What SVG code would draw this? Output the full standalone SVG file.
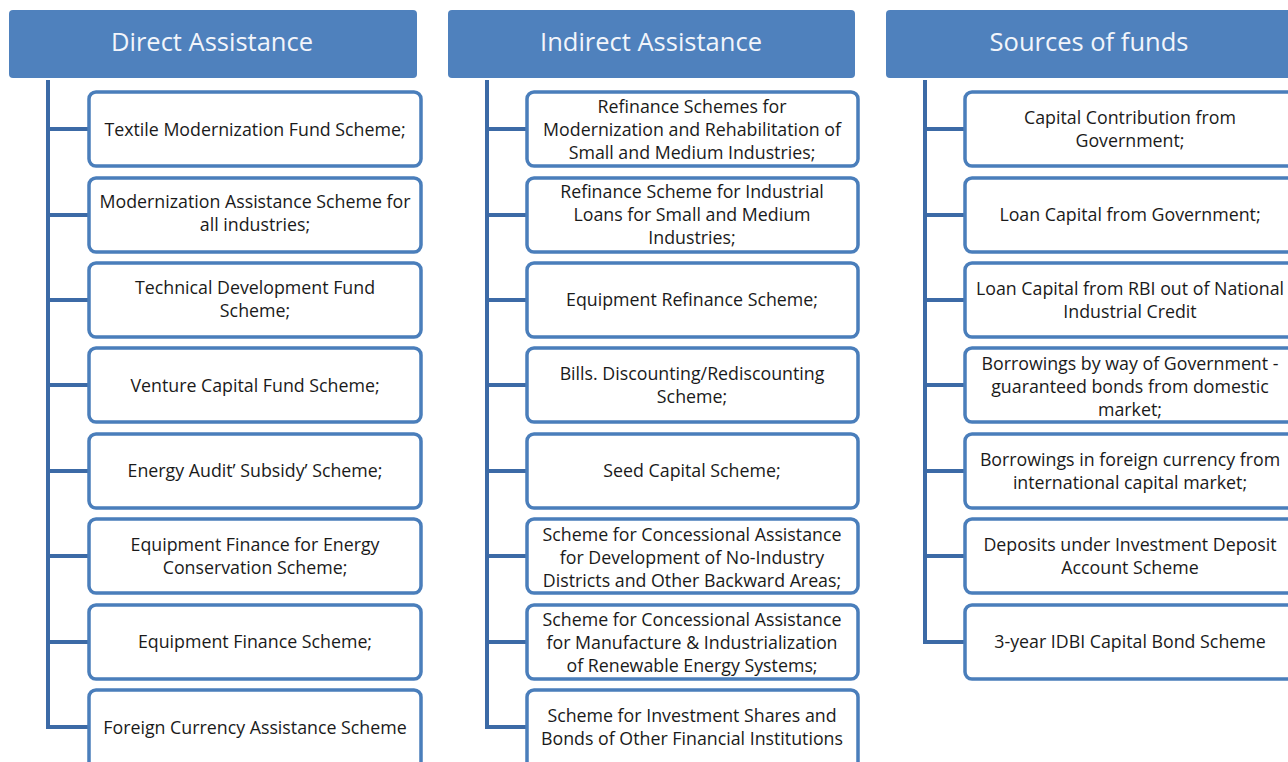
<svg xmlns="http://www.w3.org/2000/svg" width="1288" height="762" viewBox="0 0 1288 762">
<style>
.hdr{fill:#4f81bd;}
.ht{fill:#f2f5fb;font-family:"Open Sans","Liberation Sans",sans-serif;font-size:25.5px;text-anchor:middle;dominant-baseline:central;}
.box{fill:#ffffff;stroke:#4a7ebb;stroke-width:3.5;}
.bt{fill:#1a1a1a;font-family:"Open Sans","Liberation Sans",sans-serif;font-size:17.8px;text-anchor:middle;dominant-baseline:central;}
.con{stroke:#3c6aa6;stroke-width:4;fill:none;}
</style>
<rect width="1288" height="762" fill="#ffffff"/>
<g id="connectors">
<path class="con" d="M48 80 V727 H89 M48 129 H89 M48 215 H89 M48 300 H89 M48 385 H89 M48 471 H89 M48 556 H89 M48 642 H89"/>
<path class="con" d="M487 80 V727 H527 M487 129 H527 M487 215 H527 M487 300 H527 M487 385 H527 M487 471 H527 M487 556 H527 M487 642 H527"/>
<path class="con" d="M925 80 V642 H965 M925 129 H965 M925 215 H965 M925 300 H965 M925 385 H965 M925 471 H965 M925 556 H965"/>
</g>
<g id="h1"><rect class="hdr" x="9" y="10" width="408" height="68" rx="4"/><text class="ht" x="212" y="41">Direct Assistance</text></g>
<g id="h2"><rect class="hdr" x="448" y="10" width="407" height="68" rx="4"/><text class="ht" x="651" y="41">Indirect Assistance</text></g>
<g id="h3"><rect class="hdr" x="886" y="10" width="410" height="68" rx="4"/><text class="ht" x="1089" y="41">Sources of funds</text></g>

<g id="d1"><rect class="box" x="89" y="92" width="332" height="74" rx="7"/><text class="bt" x="255" y="129">Textile Modernization Fund Scheme;</text></g>
<g id="d2"><rect class="box" x="89" y="178" width="332" height="74" rx="7"/><text class="bt" x="255" y="201">Modernization Assistance Scheme for</text><text class="bt" x="255" y="224">all industries;</text></g>
<g id="d3"><rect class="box" x="89" y="263" width="332" height="74" rx="7"/><text class="bt" x="255" y="287">Technical Development Fund</text><text class="bt" x="255" y="310">Scheme;</text></g>
<g id="d4"><rect class="box" x="89" y="348" width="332" height="74" rx="7"/><text class="bt" x="255" y="385">Venture Capital Fund Scheme;</text></g>
<g id="d5"><rect class="box" x="89" y="434" width="332" height="74" rx="7"/><text class="bt" x="255" y="470">Energy Audit’ Subsidy’ Scheme;</text></g>
<g id="d6"><rect class="box" x="89" y="519" width="332" height="74" rx="7"/><text class="bt" x="255" y="544">Equipment Finance for Energy</text><text class="bt" x="255" y="567">Conservation Scheme;</text></g>
<g id="d7"><rect class="box" x="89" y="605" width="332" height="74" rx="7"/><text class="bt" x="255" y="641">Equipment Finance Scheme;</text></g>
<g id="d8"><rect class="box" x="89" y="690" width="332" height="80" rx="7"/><text class="bt" x="255" y="727">Foreign Currency Assistance Scheme</text></g>

<g id="i1"><rect class="box" x="527" y="92" width="331" height="74" rx="7"/><text class="bt" x="692" y="106">Refinance Schemes for</text><text class="bt" x="692" y="129">Modernization and Rehabilitation of</text><text class="bt" x="692" y="152">Small and Medium Industries;</text></g>
<g id="i2"><rect class="box" x="527" y="178" width="331" height="74" rx="7"/><text class="bt" x="692" y="191">Refinance Scheme for Industrial</text><text class="bt" x="692" y="214">Loans for Small and Medium</text><text class="bt" x="692" y="237">Industries;</text></g>
<g id="i3"><rect class="box" x="527" y="263" width="331" height="74" rx="7"/><text class="bt" x="692" y="299">Equipment Refinance Scheme;</text></g>
<g id="i4"><rect class="box" x="527" y="348" width="331" height="74" rx="7"/><text class="bt" x="692" y="373">Bills. Discounting/Rediscounting</text><text class="bt" x="692" y="396">Scheme;</text></g>
<g id="i5"><rect class="box" x="527" y="434" width="331" height="74" rx="7"/><text class="bt" x="692" y="470">Seed Capital Scheme;</text></g>
<g id="i6"><rect class="box" x="527" y="519" width="331" height="74" rx="7"/><text class="bt" x="692" y="534">Scheme for Concessional Assistance</text><text class="bt" x="692" y="557">for Development of No-Industry</text><text class="bt" x="692" y="580">Districts and Other Backward Areas;</text></g>
<g id="i7"><rect class="box" x="527" y="605" width="331" height="74" rx="7"/><text class="bt" x="692" y="619">Scheme for Concessional Assistance</text><text class="bt" x="692" y="642">for Manufacture &amp; Industrialization</text><text class="bt" x="692" y="665">of Renewable Energy Systems;</text></g>
<g id="i8"><rect class="box" x="527" y="690" width="331" height="80" rx="7"/><text class="bt" x="692" y="715">Scheme for Investment Shares and</text><text class="bt" x="692" y="738">Bonds of Other Financial Institutions</text></g>

<g id="s1"><rect class="box" x="965" y="92" width="340" height="74" rx="7"/><text class="bt" x="1130" y="117">Capital Contribution from</text><text class="bt" x="1130" y="140">Government;</text></g>
<g id="s2"><rect class="box" x="965" y="178" width="340" height="74" rx="7"/><text class="bt" x="1130" y="214">Loan Capital from Government;</text></g>
<g id="s3"><rect class="box" x="965" y="263" width="340" height="74" rx="7"/><text class="bt" x="1130" y="288">Loan Capital from RBI out of National</text><text class="bt" x="1130" y="311">Industrial Credit</text></g>
<g id="s4"><rect class="box" x="965" y="348" width="340" height="74" rx="7"/><text class="bt" x="1130" y="363">Borrowings by way of Government -</text><text class="bt" x="1130" y="386">guaranteed bonds from domestic</text><text class="bt" x="1130" y="409">market;</text></g>
<g id="s5"><rect class="box" x="965" y="434" width="340" height="74" rx="7"/><text class="bt" x="1130" y="459">Borrowings in foreign currency from</text><text class="bt" x="1130" y="482">international capital market;</text></g>
<g id="s6"><rect class="box" x="965" y="519" width="340" height="74" rx="7"/><text class="bt" x="1130" y="544">Deposits under Investment Deposit</text><text class="bt" x="1130" y="567">Account Scheme</text></g>
<g id="s7"><rect class="box" x="965" y="605" width="340" height="74" rx="7"/><text class="bt" x="1130" y="641">3-year IDBI Capital Bond Scheme</text></g>
</svg>
